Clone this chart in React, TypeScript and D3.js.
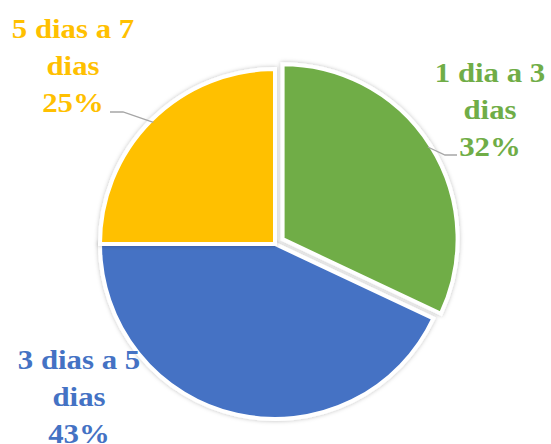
import { useEffect, useRef } from "react";
import * as d3 from "d3";

// chart data
const categories = ["1 dia a 3 dias", "3 dias a 5 dias", "5 dias a 7 dias"];
const values = [32, 43, 25];
const labelLines = [
  ["1 dia a 3", "dias", "32%"],
  ["3 dias a 5", "dias", "43%"],
  ["5 dias a 7", "dias", "25%"],
];
const colors = ["#70AD47", "#4472C4", "#FFC000"];

// layout for the labels (x center, first baseline) and leader elbows
const labelLayout = [
  { x: 490, y: 82, leader: [[445, 155], [457, 155]] },
  { x: 79, y: 369, leader: null },
  { x: 73, y: 38, leader: [[123, 112], [110, 112]] },
];

export default function App() {
  const ref = useRef(null);

  useEffect(() => {
    const width = 551;
    const height = 444;
    const cx = 275;
    const cy = 244;
    const radius = 175;
    const explode = [9, 0, 0];

    const svg = d3.select(ref.current);
    svg.selectAll("*").remove();

    const defs = svg.append("defs");
    const filter = defs
      .append("filter")
      .attr("id", "shadow")
      .attr("x", "-20%")
      .attr("y", "-20%")
      .attr("width", "140%")
      .attr("height", "140%");
    filter
      .append("feDropShadow")
      .attr("dx", 0)
      .attr("dy", 0)
      .attr("stdDeviation", 2)
      .attr("flood-color", "#000")
      .attr("flood-opacity", 0.25);

    const pie = d3
      .pie<number>()
      .sort(null)
      .startAngle(0)
      .endAngle(2 * Math.PI);
    const arcs = pie(values);
    const arc = d3.arc<d3.PieArcDatum<number>>().innerRadius(0).outerRadius(radius);

    const g = svg.append("g").attr("transform", `translate(${cx},${cy})`);

    const offset = (d, k) => {
      const mid = (d.startAngle + d.endAngle) / 2;
      return [Math.sin(mid) * k, -Math.cos(mid) * k];
    };

    g.selectAll("path.slice")
      .data(arcs)
      .enter()
      .append("path")
      .attr("class", "slice")
      .attr("d", arc)
      .attr("transform", (d, i) => {
        const [ox, oy] = offset(d, explode[i]);
        return `translate(${ox},${oy})`;
      })
      .attr("fill", (d, i) => colors[i])
      .attr("stroke", "#fff")
      .attr("stroke-width", 4)
      .attr("stroke-linejoin", "miter")
      .style("filter", "url(#shadow)");

    // leader lines
    arcs.forEach((d, i) => {
      const lay = labelLayout[i];
      if (!lay.leader) return;
      const [ox, oy] = offset(d, explode[i]);
      const [sx, sy] = offset(d, radius - 3);
      const pts = [[cx + ox + sx, cy + oy + sy], ...lay.leader];
      svg
        .append("path")
        .attr("d", d3.line()(pts as [number, number][]))
        .attr("fill", "none")
        .attr("stroke", "#a6a6a6")
        .attr("stroke-width", 1.3);
    });

    // labels
    labelLines.forEach((lines, i) => {
      const lay = labelLayout[i];
      const t = svg
        .append("g")
        .attr("transform", `translate(${lay.x},${lay.y}) scale(1.1,1)`)
        .append("text")
        .attr("text-anchor", "middle")
        .attr("font-family", "'Liberation Serif', 'Times New Roman', serif")
        .attr("font-weight", "bold")
        .attr("font-size", 28)
        .attr("fill", colors[i]);
      lines.forEach((line, j) => {
        t.append("tspan").attr("x", 0).attr("y", j * 37).text(line);
      });
    });
  }, []);

  return (
    <svg
      ref={ref}
      width={551}
      height={444}
      style={{ position: "absolute", left: 0, top: 0, background: "#fff" }}
      aria-label={categories.join(", ")}
    />
  );
}
